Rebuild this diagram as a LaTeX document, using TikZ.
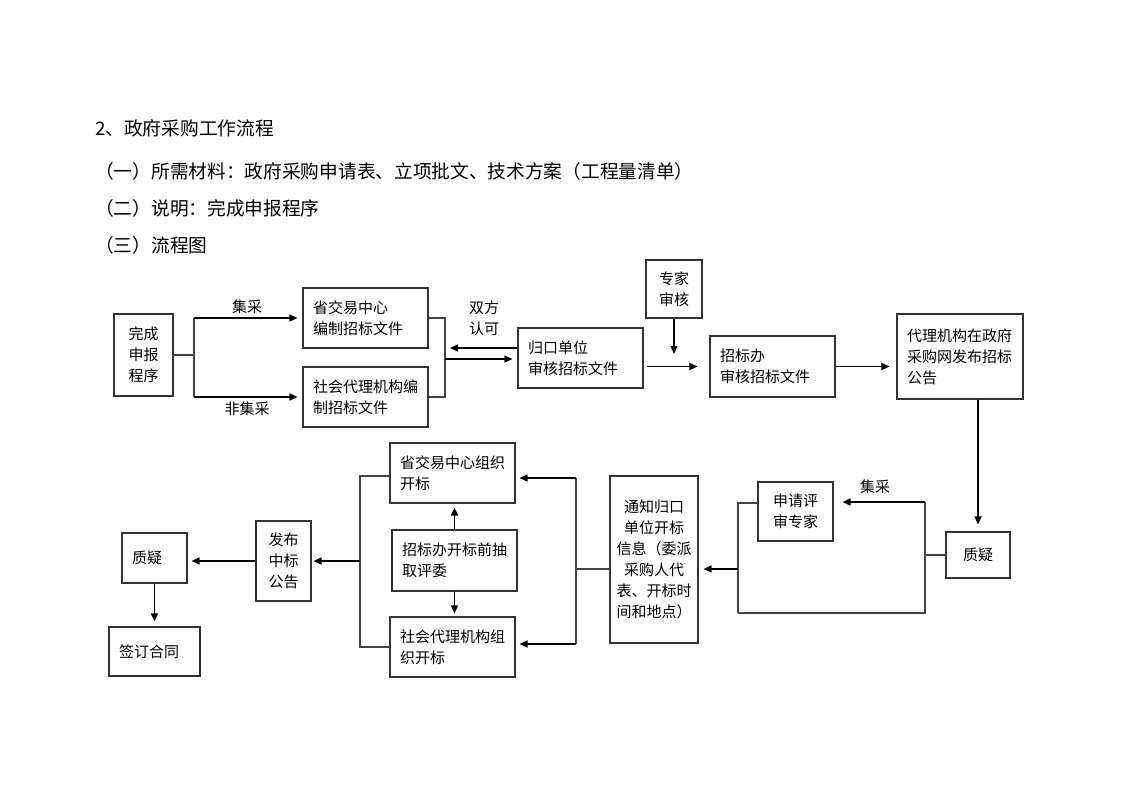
\documentclass[tikz,border=0pt]{standalone}
\usepackage{fontspec}
\setmainfont{Noto Sans CJK SC}
\usetikzlibrary{arrows.meta}
\newcommand\bxf{\fontsize{15}{21}\selectfont}
\newcommand\hdf{\fontsize{18.7}{22}\selectfont}
\definecolor{boxc}{HTML}{333333}
\definecolor{linec}{HTML}{444444}
\tikzset{
  bx/.style={draw=boxc, line width=1.1pt, inner xsep=10pt, inner ysep=0pt, font=\bxf, align=left},
  cbx/.style={draw=boxc, line width=1.1pt, inner sep=0pt, font=\bxf, align=center},
  arr/.style={-{Triangle[length=8pt,width=7pt]}, line width=1.5pt, draw=black},
  ln/.style={line width=1.1pt, draw=linec},
  lbl/.style={font=\bxf, inner sep=0pt, align=center},
  hd/.style={font=\hdf, inner sep=0pt, anchor=base west}
}
\begin{document}
\begin{tikzpicture}[x=1pt,y=-1pt]
\useasboundingbox (0,0) rectangle (1122,793);
% headings
\node[hd] (h1) at (95,135) {2、政府采购工作流程};
\node[hd] (h2) at (95,178) {（一）所需材料：政府采购申请表、立项批文、技术方案（工程量清单）};
\node[hd] (h3) at (95,215) {（二）说明：完成申报程序};
\node[hd] (h4) at (95,252) {（三）流程图};

% top row boxes
\node[cbx, minimum width=59pt, minimum height=82pt] (wc) at (143.5,355) {完成\\申报\\程序};
\node[bx, text width=105pt, minimum height=60pt] (b1) at (365.5,318) {省交易中心\\编制招标文件};
\node[bx, text width=105pt, minimum height=60pt] (b2) at (365.5,397) {社会代理机构编\\制招标文件};
\node[bx, text width=105pt, minimum height=60pt] (gk) at (580.5,358) {归口单位\\审核招标文件};
\node[cbx, minimum width=56pt, minimum height=58pt] (zj) at (674,289) {专家\\审核};
\node[bx, text width=105pt, minimum height=61pt] (zbb) at (772.5,366.5) {招标办\\审核招标文件};
\node[bx, text width=106pt, minimum height=85pt] (dl) at (960,356.5) {代理机构在政府\\采购网发布招标\\公告};

% bottom row boxes
\node[cbx, minimum width=64pt, minimum height=46pt] (zy2) at (978,555) {质疑};
\node[cbx, minimum width=75pt, minimum height=59pt] (sq) at (795.5,511.5) {申请评\\审专家};
\node[cbx, minimum width=88pt, minimum height=167pt] (tz) at (654,559.5) {通知归口\\单位开标\\信息（委派\\采购人代\\表、开标时\\间和地点）};
\node[bx, text width=105pt, minimum height=60pt] (o1) at (452.5,473) {省交易中心组织\\开标};
\node[bx, text width=105pt, minimum height=61pt] (o2) at (454.5,560.5) {招标办开标前抽\\取评委};
\node[bx, text width=105pt, minimum height=60pt] (o3) at (452.5,647) {社会代理机构组\\织开标};
\node[cbx, minimum width=55pt, minimum height=80pt] (fb) at (283.5,561) {发布\\中标\\公告};
\node[bx, text width=45pt, minimum height=50pt] (zy1) at (154.5,558) {质疑};
\node[bx, text width=71pt, minimum height=49pt] (qd) at (154.5,651.5) {签订合同};

% labels
\node[lbl] (l1) at (247,307) {集采};
\node[lbl] (l2) at (247,409) {非集采};
\node[lbl] (l3) at (484,318.5) {双方\\认可};
\node[lbl] (l4) at (875,487) {集采};

% junction coordinates
\coordinate (j1) at (194,355);
\coordinate (j1t) at (194,318);
\coordinate (j1b) at (194,397);
\coordinate (k1) at (445,348);
\coordinate (k2) at (445,359);
\coordinate (kt) at (445,318);
\coordinate (kb) at (445,397);
\coordinate (zt) at (674,354);
\coordinate (r1) at (925,502);
\coordinate (r2) at (925,613);
\coordinate (q1) at (738,503);
\coordinate (q2) at (738,613);
\coordinate (q3) at (738,569);
\coordinate (m1) at (576,478);
\coordinate (m2) at (576,644);
\coordinate (m3) at (576,569);
\coordinate (n1) at (360,476);
\coordinate (n2) at (360,647);
\coordinate (n3) at (360,561);

% top connectors
\draw[ln] (wc.east) -- (j1);
\draw[ln] (j1t) -- (j1b);
\draw[arr] (j1t) -- ([xshift=-5pt]b1.west);
\draw[arr] (j1b) -- ([xshift=-5pt]b2.west);
\draw[ln] (b1.east) -- (kt) -- (kb) -- (b2.east);
\draw[arr] (gk.west |- k1) -- ([xshift=5pt]k1);
\draw[arr] (k2) -- ([xshift=-5pt]gk.west |- k2);
\draw[arr] ([xshift=3pt]gk.east |- zbb.west) -- ([xshift=-12pt]zbb.west);
\draw[arr] (zj.south) -- (zt);
\draw[arr] (zbb.east) -- ([xshift=-7pt]zbb.east -| dl.west);
\draw[arr] (zy2.north |- dl.south) -- ([yshift=7pt]zy2.north);

% right loop
\draw[ln] (zy2.west) -- (zy2.west -| r1);
\draw[ln] (r1) -- (r2) -- (q2);
\draw[arr] (r1) -- ([xshift=9pt]sq.east |- r1);
\draw[ln] (sq.west |- q1) -- (q1) -- (q2);
\draw[arr] (q3) -- ([xshift=5pt]tz.east |- q3);

% middle bracket
\draw[ln] (tz.west |- m3) -- (m3);
\draw[ln] (m1) -- (m2);
\draw[arr] (m1) -- ([xshift=4pt]o1.east |- m1);
\draw[arr] (m2) -- ([xshift=4pt]o3.east |- m2);
\draw[arr] (o2.north) -- ([yshift=-4pt]o2.north |- o1.south);
\draw[arr] (o2.south) -- ([yshift=3pt]o2.south |- o3.north);

% left bracket
\draw[ln] (o1.west |- n1) -- (n1) -- (n2) -- (o3.west |- n2);
\draw[arr] (n3) -- ([xshift=2pt]fb.east |- n3);
\draw[arr] (fb.west) -- ([xshift=4pt]fb.west -| zy1.east);
\draw[arr] (zy1.south) -- ([yshift=5pt]zy1.south |- qd.north);
\end{tikzpicture}
\end{document}
